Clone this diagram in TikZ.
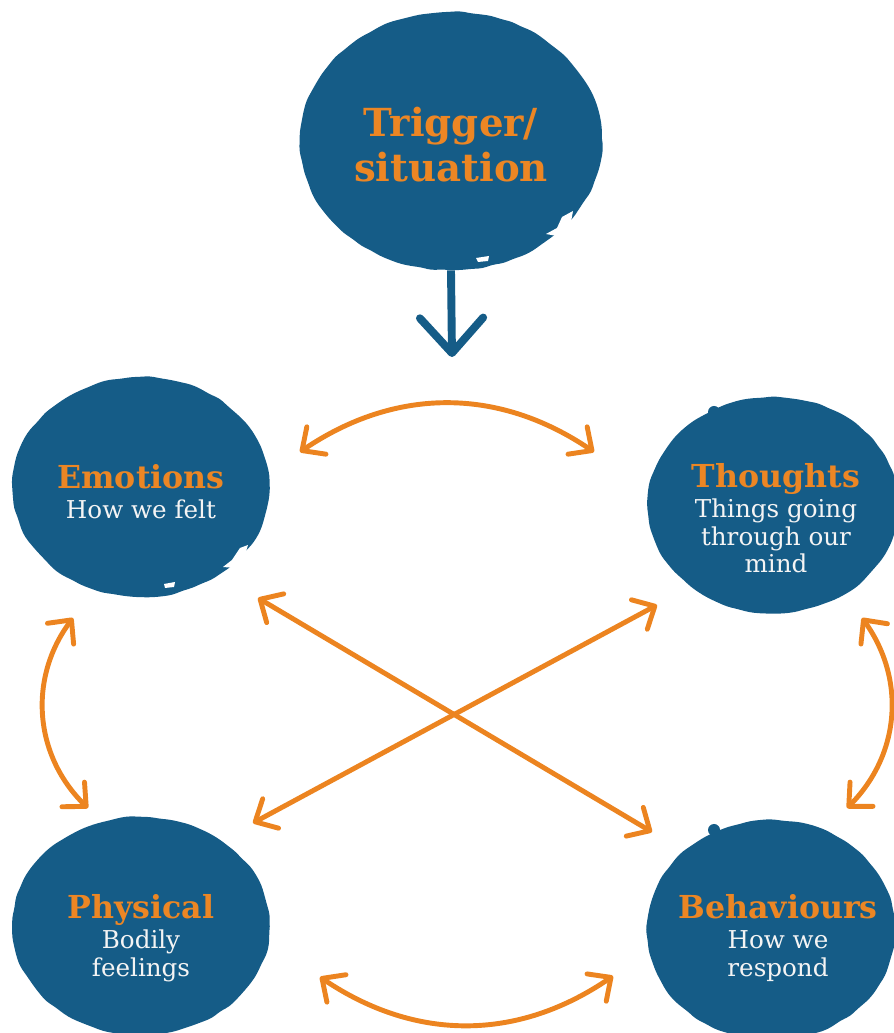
\documentclass[tikz,border=0pt]{standalone}
\usepackage{fontspec}
\setmainfont{DejaVu Serif}
\usetikzlibrary{shapes.geometric,arrows.meta,bending,decorations.pathmorphing}
\tikzset{
  blob/.style={ellipse,inner sep=0pt,fill=blobcolor,
    decorate,decoration={random steps,segment length=6pt,amplitude=0.5pt},rounded corners=2.5pt},
  caption/.style={anchor=north,inner sep=0pt,align=center,text=textcolor,
    font=\fontsize{14}{15.9}\selectfont},
  link/.style={line width=2.8pt,draw=arrowcolor,
    {Straight Barb[length=10pt,width=19pt,round]}-{Straight Barb[length=10pt,width=19pt,round]}},
  cue/.style={line width=4.5pt,draw=blobcolor,-{Straight Barb[length=20pt,width=36pt,round]}},
}
\newcommand{\heading}[1]{{\color{headcolor}\bfseries\fontsize{18}{20}\selectfont #1}}
\begin{document}
\begin{tikzpicture}
\definecolor{blobcolor}{RGB}{21,92,135}
\definecolor{arrowcolor}{RGB}{236,132,32}
\definecolor{headcolor}{RGB}{236,134,36}
\definecolor{textcolor}{RGB}{244,244,244}
\pgfmathsetseed{11}
\useasboundingbox (0,0) rectangle (17.88,20.66);
% blobs
\node [blob,minimum width=6.04cm,minimum height=5.16cm] (trigger) at (9.02,17.84) {};
\node [blob,minimum width=5.14cm,minimum height=4.40cm] (emotions) at (2.82,10.92) {};
\node [blob,minimum width=5.00cm,minimum height=4.32cm] (thoughts) at (15.46,10.56) {};
\node [blob,minimum width=5.14cm,minimum height=4.36cm] (physical) at (2.82,2.14) {};
\node [blob,minimum width=4.96cm,minimum height=4.40cm] (behaviours) at (15.42,2.06) {};
% little nubs and chips on the edges
\fill [blobcolor] (14.28,12.42) circle [radius=0.12];
\fill [blobcolor] (14.28,4.06) circle [radius=0.12];
\fill [white] (10.92,15.98) -- (11.14,16.10) -- (11.24,16.32) -- (11.46,16.44) -- (11.42,16.22) -- (11.24,15.92) -- cycle;
\fill [white] (9.52,15.50) -- (9.78,15.54) -- (9.76,15.44) -- (9.56,15.42) -- cycle;
\fill [white] (4.46,9.32) -- (4.64,9.46) -- (4.80,9.70) -- (4.96,9.76) -- (4.90,9.56) -- (4.70,9.30) -- cycle;
\fill [white] (3.28,8.98) -- (3.50,9.02) -- (3.48,8.92) -- (3.30,8.90) -- cycle;
% texts
\node [caption,text=headcolor,font=\bfseries\fontsize{22}{25.5}\selectfont] (trigger-text) at (9.02,18.52) {Trigger/\\situation};
\node [caption] (emotions-text) at (2.82,11.38) {\heading{Emotions}\\[1pt]How we felt};
\node [caption] (thoughts-text) at (15.52,11.40) {\heading{Thoughts}\\[1pt]Things going\\through our\\mind};
\node [caption] (physical-text) at (2.82,2.78) {\heading{Physical}\\[1pt]Bodily\\feelings};
\node [caption] (behaviours-text) at (15.56,2.78) {\heading{Behaviours}\\[1pt]How we\\respond};
% arrow ends
\coordinate (emo-tho) at (6.00,11.62);
\coordinate (tho-emo) at (11.88,11.62);
\coordinate (emo-phy) at (1.46,8.30);
\coordinate (phy-emo) at (1.76,4.50);
\coordinate (tho-beh) at (17.24,8.30);
\coordinate (beh-tho) at (16.94,4.50);
\coordinate (phy-beh) at (6.40,1.12);
\coordinate (beh-phy) at (12.26,1.14);
\coordinate (emo-beh) at (5.16,8.70);
\coordinate (beh-emo) at (13.04,4.02);
\coordinate (tho-phy) at (13.14,8.56);
\coordinate (phy-tho) at (5.06,4.20);
\coordinate (cue-end) at (9.04,13.52);
% connectors
\draw [cue] (trigger.south) -- (cue-end);
\draw [link] (emo-tho) to [bend left=35] (tho-emo);
\draw [link] (emo-phy) to [bend right=43] (phy-emo);
\draw [link] (tho-beh) to [bend left=42] (beh-tho);
\draw [link] (phy-beh) to [bend right=35] (beh-phy);
\draw [link] (emo-beh) -- (beh-emo);
\draw [link] (tho-phy) -- (phy-tho);
\end{tikzpicture}
\end{document}
